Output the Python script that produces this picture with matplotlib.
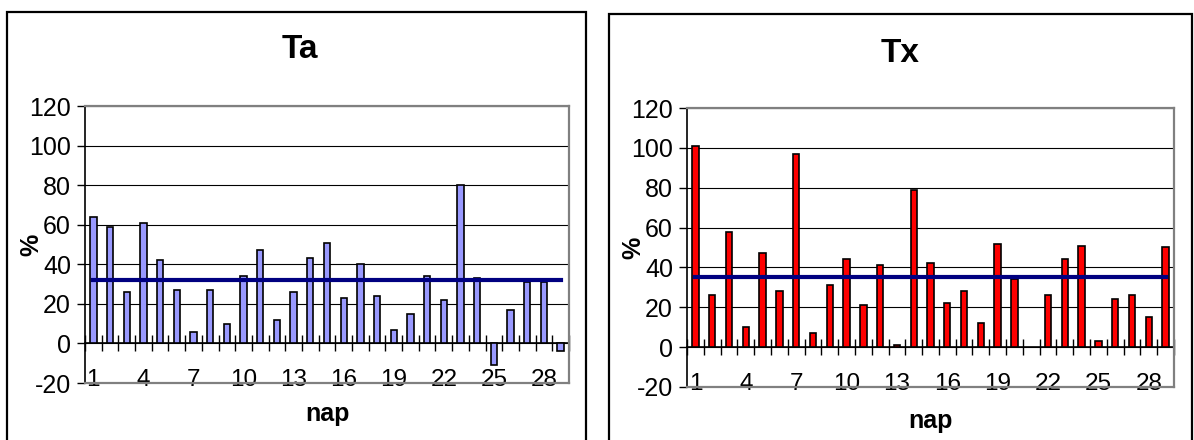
import numpy as np
import matplotlib
matplotlib.use("Agg")
import matplotlib.pyplot as plt
from matplotlib.patches import Rectangle

plt.rcParams['font.family'] = ['Liberation Sans', 'DejaVu Sans']
plt.rcParams['axes.unicode_minus'] = False

# values
days = list(range(1, 30))
ta = [64, 59, 26, 61, 42, 27, 6, 27, 10, 34, 47, 12, 26, 43, 51,
      23, 40, 24, 7, 15, 34, 22, 80, 33, -11, 17, 31, 31, -4]
tx = [101, 26, 58, 10, 47, 28, 97, 7, 31, 44, 21, 41, 1, 79, 42,
      22, 28, 12, 52, 34, np.nan, 26, 44, 51, 3, 24, 26, 15, 50]
ta_avg = 32
tx_avg = 35
day_labels = [1, 4, 7, 10, 13, 16, 19, 22, 25, 28]
y_ticks = [-20, 0, 20, 40, 60, 80, 100, 120]

W, H = 1194, 440
fig = plt.figure(figsize=(W / 100, H / 100), dpi=100)


def px_rect(x0, x1, ytop, ybot):
    return [x0 / W, 1 - ybot / H, (x1 - x0) / W, (ybot - ytop) / H]


def draw_chart(ax, values, avg, color, title, title_xy, xlabel_y):
    ax.bar(days, values, width=0.38, color=color, edgecolor='black',
           linewidth=1.2, zorder=2)
    ax.plot(days, [avg] * len(days), color='#000080', lw=3, zorder=3)
    ax.set_xlim(0.5, len(days) + 0.5)
    ax.set_ylim(-20, 120)
    ax.set_yticks(y_ticks)
    ax.set_axisbelow(True)
    ax.yaxis.grid(True, color='black', lw=0.8)

    for side in ['top', 'right', 'bottom']:
        ax.spines[side].set_color('#808080')
        ax.spines[side].set_linewidth(1.6)
    ax.spines['left'].set_color('black')
    ax.spines['left'].set_linewidth(1.2)

    ax.tick_params(axis='y', direction='out', length=6, width=1,
                   labelsize=18, pad=4)
    ax.set_xticks(day_labels)
    ax.tick_params(axis='x', length=0, labelsize=17.5, pad=-10)

    # category axis crossing at zero with tick marks between days
    sec = ax.secondary_xaxis(20 / 140)
    sec.set_xticks(np.arange(0.5, len(days) + 1, 1.0))
    sec.tick_params(direction='inout', length=12, width=1,
                    labelbottom=False)
    sec.spines['bottom'].set_color('black')
    sec.spines['bottom'].set_linewidth(1.2)

    ax.set_ylabel('%', fontsize=18, fontweight='bold')
    ax.yaxis.set_label_coords(-0.085, 0.5)
    ax.set_xlabel('nap', fontsize=18, fontweight='bold')
    ax.xaxis.set_label_coords(0.5, xlabel_y)

    fig.text(title_xy[0] / W, 1 - title_xy[1] / H, title, fontsize=24,
             fontweight='bold', ha='center', va='center')


ax1 = fig.add_axes(px_rect(85, 569, 106, 383))
draw_chart(ax1, ta, ta_avg, '#9999FF', 'Ta', (300, 50), -0.07)

ax2 = fig.add_axes(px_rect(687, 1174, 108, 387))
draw_chart(ax2, tx, tx_avg, '#FF0000', 'Tx', (900, 53), -0.08)

# chart area frames
for x0, x1, ytop in [(7, 586, 12), (609, 1192, 14)]:
    fig.add_artist(Rectangle((x0 / W, -0.1), (x1 - x0) / W,
                             1 - ytop / H + 0.1, fill=False,
                             edgecolor='black', lw=1.6,
                             transform=fig.transFigure))

fig.savefig('out.png', dpi=100)
